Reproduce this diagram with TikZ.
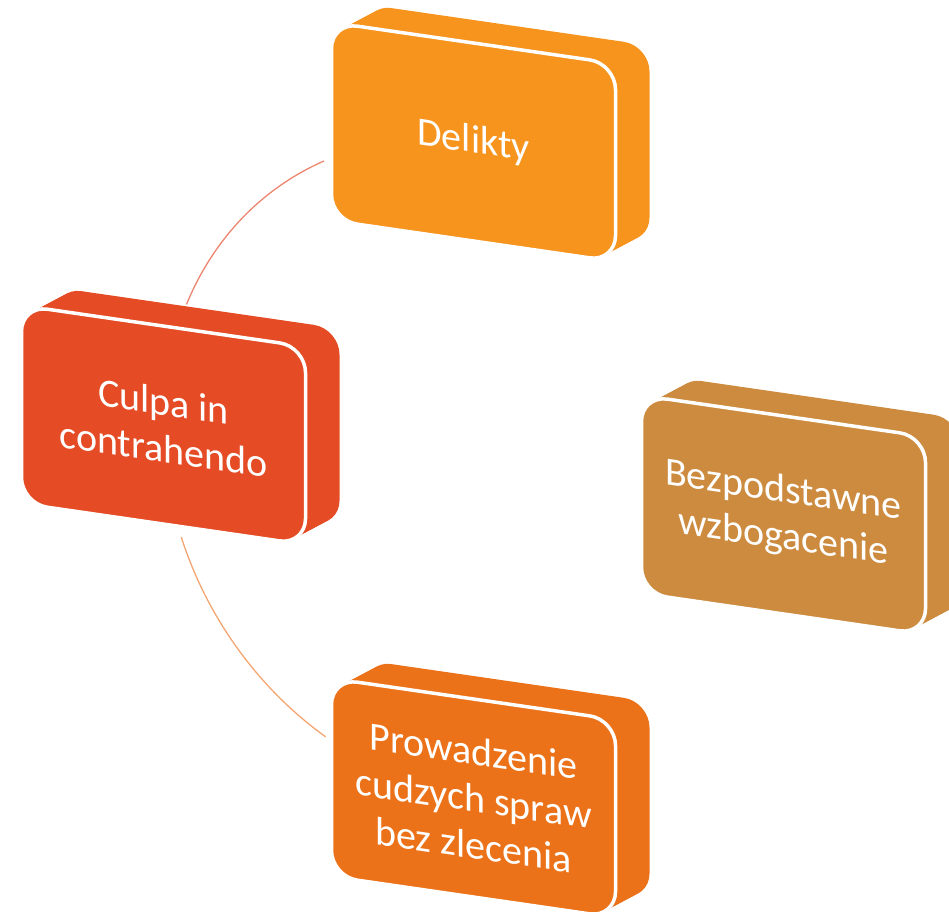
\documentclass[tikz,border=0pt]{standalone}
\usepackage{fontspec}
\setmainfont{Carlito}

\definecolor{deliktycol}{HTML}{F7941D}
\definecolor{culpacol}{HTML}{E54B24}
\definecolor{bezcol}{HTML}{CD8B3F}
\definecolor{prowcol}{HTML}{EC7219}
\definecolor{toparccol}{HTML}{EC8670}
\definecolor{botarccol}{HTML}{F4A672}

\tikzset{
	box/.style={transform shape,rectangle,rounded corners=26pt,minimum width=284pt,minimum height=198pt,
		inner sep=0pt,draw=white,line width=3.5pt,text=white,align=center,font=\fontsize{40}{47}\selectfont},
	side/.style={rounded corners=26pt},
	cyclearc/.style={line width=1.3pt}
}

\begin{document}
\begin{tikzpicture}[x=1pt,y=1pt]
		\useasboundingbox (0,0) rectangle (949,-911);
		\clip (0,0) rectangle (949,-911);
		\begin{scope}[shift={(473.5,-470)},yslant=-0.145]
			% arcs of the cycle
			\coordinate (culpatop) at (157.8:310pt and 328pt);
			\coordinate (culpabottom) at (199.5:310pt and 328pt);
			\draw[cyclearc,toparccol] (culpatop) arc[start angle=157.8,end angle=118.8,x radius=310pt,y radius=328pt];
			\draw[cyclearc,botarccol] (culpabottom) arc[start angle=199.5,end angle=241.5,x radius=310pt,y radius=328pt];
			% sides of the boxes
			\foreach \t in {12,11,...,0}
			{
				\fill[side,deliktycol] (\t*34/12-142,328-99+\t*23/12) rectangle ++(284,198);
				\fill[side,culpacol] (\t*34/12-310-142,-99+\t*23/12) rectangle ++(284,198);
				\fill[side,bezcol] (\t*34/12+310-142,-99+\t*23/12) rectangle ++(284,198);
				\fill[side,prowcol] (\t*34/12-142,-328-99+\t*23/12) rectangle ++(284,198);
			}
			% front faces
			\node[box,fill=deliktycol] (delikty) at (0,328) {Delikty};
			\node[box,fill=culpacol] (culpa) at (-310,0) {Culpa in\\contrahendo};
			\node[box,fill=bezcol] (bezpodstawne) at (310,0) {Bezpodstawne\\wzbogacenie};
			\node[box,fill=prowcol] (prowadzenie) at (0,-328) {Prowadzenie\\cudzych spraw\\bez zlecenia};
		\end{scope}
\end{tikzpicture}
\end{document}
